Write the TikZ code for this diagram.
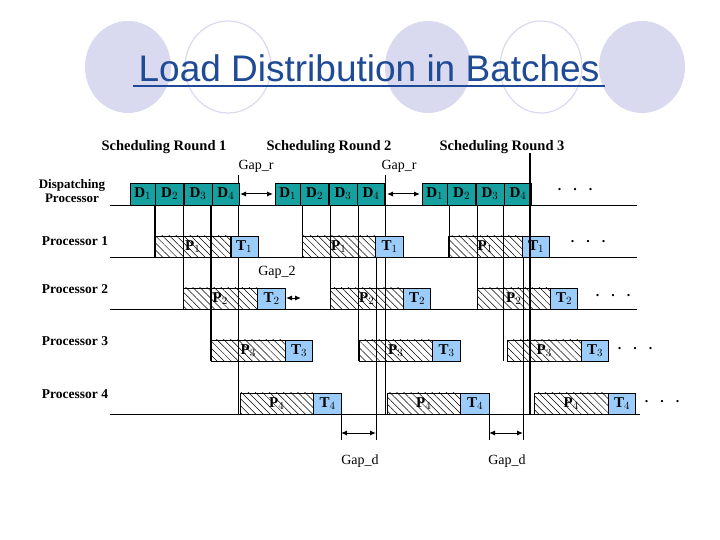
\documentclass[tikz,border=0pt]{standalone}
\usepackage{fontspec}
\setmainfont{Liberation Serif}
\newfontfamily\sans{Liberation Sans}
\usetikzlibrary{patterns.meta,arrows.meta}
\definecolor{dteal}{HTML}{16A0A0}
\definecolor{tblue}{HTML}{9CCCFA}
\definecolor{lav}{HTML}{D9D9EF}
\definecolor{ttl}{HTML}{1F4A96}
\tikzset{
  disp/.style={draw, fill=dteal, minimum height=22pt, inner sep=0pt, anchor=south west, font=\bfseries\fontsize{15}{15}\selectfont},
  tb/.style={draw, fill=tblue, minimum height=21pt, inner sep=0pt, anchor=south west, font=\bfseries\fontsize{15}{15}\selectfont},
  hb/.style={draw, pattern={Lines[angle=-45,distance=5pt,line width=0.5pt]}, minimum height=21pt, inner sep=0pt, anchor=south west, font=\bfseries\fontsize{15}{15}\selectfont},
  lbl/.style={font=\bfseries\fontsize{13.5}{14}\selectfont, align=center},
  gl/.style={font=\fontsize{14}{14}\selectfont},
  base/.style={line width=0.8pt},
  vt/.style={line width=0.5pt},
  vk/.style={line width=1.6pt},
  dbl/.style={{Latex[length=6pt,width=5pt]}-{Latex[length=6pt,width=5pt]}, line width=1pt},
  dots/.style={font=\bfseries\fontsize{14}{14}\selectfont}
}
\begin{document}
\begin{tikzpicture}[x=1pt,y=-1pt]
\useasboundingbox (0,0) rectangle (720,540);
% background ellipses
\fill[lav] (128,67) ellipse (43 and 46);
\draw[lav,line width=1.2pt] (228,67) ellipse (43 and 46);
\fill[lav] (428,67) ellipse (43 and 46);
\draw[lav,line width=1.2pt] (541,67) ellipse (41 and 46);
\fill[lav] (642,67) ellipse (43 and 46);
\node[text=ttl, font=\sans\fontsize{37}{37}\selectfont, inner sep=0pt] (title) at (369,68) {Load Distribution in Batches};
\draw[ttl, line width=1.3pt] (133,86) -- (605,86);

% row labels
\node[lbl, font=\bfseries\fontsize{13}{14}\selectfont] (ldp) at (72,191) {Dispatching\\Processor};
\node[lbl] (lp1) at (75,241) {Processor 1};
\node[lbl] (lp2) at (75,289) {Processor 2};
\node[lbl] (lp3) at (75,341) {Processor 3};
\node[lbl] (lp4) at (75,394) {Processor 4};
\node[lbl, font=\bfseries\fontsize{14.5}{14}\selectfont] (sr1) at (164,147) {Scheduling Round 1};
\node[lbl, font=\bfseries\fontsize{14.5}{14}\selectfont] (sr2) at (329,147) {Scheduling Round 2};
\node[lbl, font=\bfseries\fontsize{14.5}{14}\selectfont] (sr3) at (502,147) {Scheduling Round 3};

% vertical lines
\draw[vk] (155,205) -- (155,257);
\draw[vt] (183,205) -- (183,309);
\draw[vk] (211,205) -- (211,361);
\draw[vt] (238,175) -- (238,414);
\draw[vt] (302,205) -- (302,257);
\draw[vt] (330,205) -- (330,309);
\draw[vt] (358,205) -- (358,361);
\draw[vt] (376,257) -- (376,440);
\draw[vt] (385,175) -- (385,414);
\draw[vt] (449,205) -- (449,257);
\draw[vt] (477,205) -- (477,309);
\draw[vt] (503,205) -- (503,361);
\draw[vt] (523,257) -- (523,440);
\draw[vt] (341,414) -- (341,440);
\draw[vt] (489,414) -- (489,440);

% dispatch boxes
\foreach \r/\x in {1/130,2/275,3/422}{
  \node[disp, minimum width=25pt] (d1r\r) at (\x,205) {D$_1$};
  \node[disp, minimum width=28pt] (d2r\r) at (d1r\r.south east) {D$_2$};
  \node[disp, minimum width=28pt] (d3r\r) at (d2r\r.south east) {D$_3$};
  \node[disp, minimum width=27pt] (d4r\r) at (d3r\r.south east) {D$_4$};
}
\node[dots] (dd0) at (575,190) {.\hspace{12pt}.\hspace{12pt}.};

% processor 1
\node[hb, minimum width=75pt] (p1a) at (155,257) {P$_1$};
\node[tb, minimum width=27pt] (t1a) at (p1a.south east) {T$_1$};
\node[hb, minimum width=73pt] (p1b) at (302,257) {P$_1$};
\node[tb, minimum width=28pt] (t1b) at (p1b.south east) {T$_1$};
\node[hb, minimum width=74pt] (p1c) at (448,257) {P$_1$};
\node[tb, minimum width=27pt] (t1c) at (p1c.south east) {T$_1$};
\node[dots] (dd1) at (588,242) {.\hspace{12pt}.\hspace{12pt}.};
% processor 2
\node[hb, minimum width=74pt] (p2a) at (183,309) {P$_2$};
\node[tb, minimum width=28pt] (t2a) at (p2a.south east) {T$_2$};
\node[hb, minimum width=73pt] (p2b) at (330,309) {P$_2$};
\node[tb, minimum width=27pt] (t2b) at (p2b.south east) {T$_2$};
\node[hb, minimum width=73pt] (p2c) at (477,309) {P$_2$};
\node[tb, minimum width=27pt] (t2c) at (p2c.south east) {T$_2$};
\node[dots] (dd2) at (613,296) {.\hspace{12pt}.\hspace{12pt}.};
% processor 3
\node[hb, minimum width=74pt] (p3a) at (211,361) {P$_3$};
\node[tb, minimum width=27pt] (t3a) at (p3a.south east) {T$_3$};
\node[hb, minimum width=73pt] (p3b) at (359,361) {P$_3$};
\node[tb, minimum width=28pt] (t3b) at (p3b.south east) {T$_3$};
\node[hb, minimum width=74pt] (p3c) at (507,361) {P$_3$};
\node[tb, minimum width=27pt] (t3c) at (p3c.south east) {T$_3$};
\node[dots] (dd3) at (635,349) {.\hspace{12pt}.\hspace{12pt}.};
% processor 4
\node[hb, minimum width=73pt] (p4a) at (240,414) {P$_4$};
\node[tb, minimum width=28pt] (t4a) at (p4a.south east) {T$_4$};
\node[hb, minimum width=73pt] (p4b) at (387,414) {P$_4$};
\node[tb, minimum width=29pt] (t4b) at (p4b.south east) {T$_4$};
\node[hb, minimum width=74pt] (p4c) at (534,414) {P$_4$};
\node[tb, minimum width=27pt] (t4c) at (p4c.south east) {T$_4$};
\node[dots] (dd4) at (662,402) {.\hspace{12pt}.\hspace{12pt}.};

% baselines
\draw[base] (110,205) -- (637,205);
\draw[base] (110,257) -- (637,257);
\draw[base] (110,309) -- (637,309);
\draw[base] (110,414) -- (640,414);
\draw[vk] (530,153) -- (530,414);

% gaps
\node[gl] (gr1) at (256,166) {Gap\_r};
\node[gl] (gr2) at (399,166) {Gap\_r};
\coordinate (a1) at (240,194); \coordinate (a2) at (273,194);
\draw[dbl] (a1) -- (a2);
\coordinate (a3) at (387,194); \coordinate (a4) at (420,194);
\draw[dbl] (a3) -- (a4);
\node[gl] (g2) at (277,272) {Gap\_2};
\coordinate (b1) at (286,298); \coordinate (b2) at (301,298);
\draw[dbl] (b1) -- (b2);
\coordinate (c1) at (341,433); \coordinate (c2) at (376,433);
\draw[dbl] (c1) -- (c2);
\coordinate (c3) at (489,433); \coordinate (c4) at (523,433);
\draw[dbl] (c3) -- (c4);
\node[gl] (gd1) at (360,461) {Gap\_d};
\node[gl] (gd2) at (507,461) {Gap\_d};
\end{tikzpicture}
\end{document}
